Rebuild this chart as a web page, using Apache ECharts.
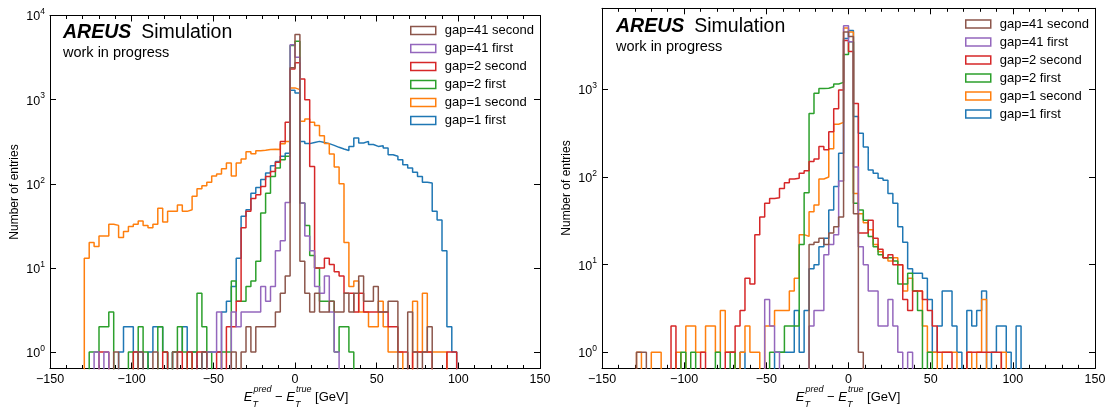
<!DOCTYPE html>
<html><head><meta charset="utf-8">
<script src="https://cdn.jsdelivr.net/npm/echarts@6/dist/echarts.min.js"></script>
<style>html,body{margin:0;padding:0;background:#fff}#c{width:1110px;height:410px}</style>
</head><body><div id="c"></div>
<script>
// ---- binning (3 GeV bins from -150 to 150) ----
const binStart = -150, binWidth = 3, nBins = 100;
const seriesNames = ['gap=41 second','gap=41 first','gap=2 second','gap=2 first','gap=1 second','gap=1 first'];
const seriesColors = ['#8c564b','#9467bd','#d62728','#2ca02c','#ff7f0e','#1f77b4'];

// ---- left panel counts (bin i covers [-150+3i, -147+3i]) ----
const L_brown = [
0,0,0,0,0,0,0,0,0,0, 0,0,0,1,0,0,0,0,1,0, 0,1,0,0,0,1,0,0,0,0, 0,1,0,0,0,0,0,1,0,1,
2,1,2,2,2,2,3,5,8,2400, 5940,12,5,3,5,3,3,4,3,3, 5,3,5,8,4,4,6,3,3,4, 4,0,0,3,1,0,1,2,0,0,
0,0,0,0,0,0,0,0,0,0, 0,0,0,0,0,0,0,0,0,0];
const L_purple = [
0,0,0,0,0,0,0,0,0,1, 0,1,0,0,0,0,0,0,0,0, 0,0,0,0,0,0,0,0,0,0, 0,0,1,1,3,0,0,3,2,3,
3,3,3,6,4,6,16,21,60,4500, 3200,59,24,16,6,5,8,3,1,0, 0,0,0,0,0,0,0,0,0,0, 0,0,0,0,0,0,0,0,0,0,
0,0,0,0,0,0,0,0,0,0, 0,0,0,0,0,0,0,0,0,0];
const L_red = [
0,0,0,0,0,0,0,0,0,0, 1,1,0,0,0,0,0,1,0,0, 0,0,0,1,0,0,1,0,1,0, 1,1,0,0,1,0,2,2,4,30,
47,67,74,93,122,140,180,319,537,2320, 2735,1760,1000,160,10,10,13,11,9,8, 5,5,3,5,3,3,3,3,3,2, 2,1,1,0,1,1,1,1,0,0,
0,1,1,0,0,0,0,0,0,0, 0,0,0,0,0,0,0,0,0,0];
const L_green = [
0,0,0,0,0,0,0,0,1,1, 2,2,3,0,0,0,1,0,2,1, 0,0,2,1,0,1,2,1,0,1, 5,2,1,0,0,1,1,7,4,4,
6,7,12,45,77,122,154,193,212,4400, 4940,59,32,14,10,4,4,4,1,2, 2,1,0,0,0,0,0,0,0,0, 0,0,0,0,0,0,0,0,0,0,
0,0,0,0,0,0,0,0,0,0, 0,0,0,0,0,0,0,0,0,0];
const L_orange = [
0,0,0,0,0,0,0,13,20,18, 24,24,33,32,23,27,31,33,36,32, 30,33,51,35,47,47,56,47,49,71, 87,95,104,124,131,151,176,124,176,197,
240,227,247,250,255,258,255,299,319,1378, 1315,552,590,537,494,373,300,226,158,100, 20,6,7,3,3,2,2,4,2,1, 1,1,0,0,4,1,5,1,1,1,
1,0,0,0,0,0,0,0,0,0, 0,0,0,0,0,0,0,0,0,0];
const L_blue = [
0,0,0,0,0,0,0,0,0,0, 0,0,0,0,1,2,2,1,1,0, 1,2,2,1,0,1,1,2,1,1, 0,1,1,1,1,3,4,6,13,41,
49,77,90,112,134,164,184,212,230,1290, 1200,319,300,310,319,310,300,286,271,259, 249,278,350,305,319,293,278,283,266,221, 212,193,168,154,137,122,104,102,47,37,
16,2,1,0,0,0,0,0,0,0, 0,0,0,0,0,0,0,0,0,0];

// ---- right panel counts ----
const R_brown = [
0,0,0,0,0,0,0,1,1,0, 0,0,0,0,0,0,0,0,0,0, 0,0,0,0,0,0,0,0,0,0, 0,0,0,0,0,0,0,0,0,0,
0,0,17,18,20,17,23,27,35,4500, 4000,38,1,0,0,0,0,0,0,0, 0,0,0,0,0,0,0,0,0,0, 0,0,0,0,0,0,0,0,0,0,
0,0,0,0,0,0,0,0,0,0, 0,0,0,0,0,0,0,0,0,0];
const R_purple = [
0,0,0,0,0,0,0,0,0,0, 0,0,0,0,0,0,0,0,0,0, 0,0,0,0,0,0,0,0,0,0, 0,0,0,4,2,1,0,0,0,0,
0,0,2,3,3,13,17,22,90,5300, 3500,130,16,10,5,5,2,2,4,2, 1,0,1,0,0,0,0,0,0,0, 0,0,0,0,0,0,0,0,0,0,
0,0,0,0,0,0,0,0,0,0, 0,0,0,0,0,0,0,0,0,0];
const R_red = [
0,0,0,0,0,0,0,0,0,0, 0,0,0,0,2,0,0,0,0,0, 1,0,0,0,0,1,1,2,3,7, 6,22,35,50,57,58,74,86,95,97,
110,118,150,160,222,204,329,600,980,3600, 2700,690,23,23,32,20,15,12,13,10, 10,4,3,5,5,4,3,2,1,1, 1,0,0,0,1,1,1,1,1,1,
1,0,0,0,0,0,0,0,0,0, 0,0,0,0,0,0,0,0,0,0];
const R_green = [
0,0,0,0,0,0,0,0,0,0, 0,0,0,0,0,0,1,0,1,0, 0,0,0,1,0,0,1,0,0,0, 0,0,0,0,1,1,1,2,2,2,
17,66,530,900,1020,1030,1070,1150,1200,2500, 3500,50,42,32,21,16,13,12,12,11, 6,6,8,5,3,0,1,0,0,0, 0,0,0,0,0,0,0,0,0,0,
0,0,0,0,0,0,0,0,0,0, 0,0,0,0,0,0,0,0,0,0];
const R_orange = [
0,0,0,0,0,0,0,1,0,0, 1,1,0,0,0,1,0,2,2,1, 1,2,2,1,3,1,1,0,1,2, 1,1,0,2,2,3,3,3,5,7,
22,21,40,48,95,100,210,400,420,5000, 4500,65,38,30,25,17,14,12,11,12, 10,5,7,5,5,2,1,1,0,1, 1,1,0,0,1,0,1,4,0,0,
0,1,0,0,0,0,0,0,0,0, 0,0,0,0,0,0,0,0,0,0];
const R_blue = [
0,0,0,0,0,0,0,0,0,0, 0,0,0,0,0,0,0,0,0,0, 0,0,0,0,0,0,0,0,1,0, 0,0,0,0,0,1,1,1,1,3,
1,3,9,10,16,20,42,78,186,3800, 4680,490,315,220,120,110,97,92,65,50, 27,18,9,8,8,7,4,1,2,5, 5,2,1,0,3,2,3,5,0,1,
2,2,1,0,2,0,0,0,0,0, 0,0,0,0,0,0,0,0,0,0];

const leftCounts  = [L_brown, L_purple, L_red, L_green, L_orange, L_blue];
const rightCounts = [R_brown, R_purple, R_red, R_green, R_orange, R_blue];

// ---- building ----
const FONT = "'Liberation Sans', Arial, sans-serif";
const EMPTY = 1e-3; // empty bins fall below the axis and are clipped
function stepData(counts){
  const pts = [];
  for (let i = 0; i < nBins; i++) pts.push([binStart + i*binWidth, counts[i] > 0 ? counts[i] : EMPTY]);
  pts.push([binStart + nBins*binWidth, EMPTY]);
  return pts;
}
const grids = [
  {left: 50, top: 15.5, width: 490, height: 353},
  {left: 602, top: 8.3, width: 493, height: 360}
];
const yRanges = [[0.637, 10000], [0.657, 8400]];
const minus = v => v < 0 ? '\u2212' + (-v) : String(v);

const xAxes = [], yAxes = [], series = [];
grids.forEach((g, gi) => {
  const common = {gridIndex: gi, type: 'value', min: -150, max: 150, interval: 50,
    splitLine: {show: false},
    axisLine: {show: true, onZero: false, lineStyle: {color: '#000', width: 1}},
    axisTick: {show: true, inside: true, length: 6, lineStyle: {color: '#000', width: 1}},
    minorTick: {show: true, splitNumber: 5, length: 3.5, lineStyle: {color: '#000', width: 1}}};
  xAxes.push(Object.assign({}, common, {position: 'bottom',
    axisLabel: {color: '#000', fontSize: 12.5, fontFamily: FONT, margin: 5, formatter: minus}}));
  xAxes.push(Object.assign({}, common, {position: 'top', axisLabel: {show: false}}));
  const ycommon = {gridIndex: gi, type: 'log', logBase: 10, min: yRanges[gi][0], max: yRanges[gi][1],
    splitLine: {show: false}, minorTick: {show: false},
    axisLine: {show: true, onZero: false, lineStyle: {color: '#000', width: 1}},
    axisTick: {show: true, inside: true, length: 6, lineStyle: {color: '#000', width: 1}}};
  yAxes.push(Object.assign({}, ycommon, {position: 'left',
    axisLabel: {color: '#000', fontFamily: FONT, margin: 5, showMinLabel: false, showMaxLabel: gi === 0,
      formatter: v => { const e = Math.log10(v); if (Math.abs(e - Math.round(e)) > 1e-6) return ''; return '{b|10}{s|' + Math.round(e) + '}'; },
      rich: {b: {fontSize: 12.5, fontFamily: FONT, color: '#000', lineHeight: 16, verticalAlign: 'bottom'},
             s: {fontSize: 8.5, fontFamily: FONT, color: '#000', lineHeight: 16, verticalAlign: 'top', padding: [0,0,7,0]}}}}));
  yAxes.push(Object.assign({}, ycommon, {position: 'right', axisLabel: {show: false}}));
  const counts = gi === 0 ? leftCounts : rightCounts;
  // draw order: gap=1 first ... gap=41 second on top
  for (let k = 5; k >= 0; k--) {
    series.push({type: 'line', name: seriesNames[k], xAxisIndex: gi*2, yAxisIndex: gi*2,
      data: stepData(counts[k]), step: 'end', showSymbol: false, symbol: 'none', clip: true,
      lineStyle: {color: seriesColors[k], width: 1.5}, itemStyle: {color: seriesColors[k]},
      emphasis: {disabled: true}, silent: true});
  }
});

const legendData = seriesNames.map((n, k) => ({name: n, icon: 'rect',
  itemStyle: {color: 'rgba(0,0,0,0)', borderColor: seriesColors[k], borderWidth: 1.5}}));
const legendBase = {orient: 'vertical', padding: 0, itemWidth: 25, itemHeight: 8, itemGap: 0, selectedMode: false,
  textStyle: {fontSize: 13, fontFamily: FONT, color: '#000', lineHeight: 18, padding: [0,0,0,4]}, data: legendData};
const legends = [Object.assign({}, legendBase, {left: 410, top: 21.5}), Object.assign({}, legendBase, {left: 965, top: 15})];

// text helpers
const ctx = document.createElement('canvas').getContext('2d');
function tw(text, font){ ctx.font = font; return ctx.measureText(text).width; }
function xTitle(cx, y){
  const big = 13, small = 9;
  const fBig = 'italic ' + big + 'px ' + FONT, fSmall = 'italic ' + small + 'px ' + FONT, fNorm = big + 'px ' + FONT;
  const parts = [
    {kind: 'E', sup: 'pred', sub: 'T'},
    {kind: 't', t: ' \u2212 '},
    {kind: 'E', sup: 'true', sub: 'T'},
    {kind: 't', t: ' [GeV]'}];
  let total = 0;
  parts.forEach(p => { p.w = p.kind === 'E' ? tw('E', fBig) + 1 + Math.max(tw(p.sup, fSmall), tw(p.sub, fSmall)) : tw(p.t, fNorm); total += p.w; });
  let x = cx - total/2; const els = [];
  parts.forEach(p => {
    if (p.kind === 'E') {
      const ew = tw('E', fBig);
      els.push({type: 'text', left: x, top: y - 8, style: {text: 'E', font: fBig, fill: '#000'}});
      els.push({type: 'text', left: x + ew + 1, top: y - 14, style: {text: p.sup, font: fSmall, fill: '#000'}});
      els.push({type: 'text', left: x + ew, top: y + 1, style: {text: p.sub, font: fSmall, fill: '#000'}});
    } else {
      els.push({type: 'text', left: x, top: y - 8, style: {text: p.t, font: fNorm, fill: '#000'}});
    }
    x += p.w;
  });
  return els;
}
function header(x, y1, y2){
  const fA = 'italic bold 19.5px ' + FONT, fS = '19.5px ' + FONT;
  const aw = tw('AREUS', fA);
  return [
    {type: 'text', left: x, top: y1 - 11, style: {text: 'AREUS', font: fA, fill: '#000'}},
    {type: 'text', left: x + aw + 10, top: y1 - 11, style: {text: 'Simulation', font: fS, fill: '#000'}},
    {type: 'text', left: x, top: y2 - 8, style: {text: 'work in progress', font: '14.5px ' + FONT, fill: '#000'}}
  ];
}
function yTitle(cx, cy){
  return {type: 'text', x: cx, y: cy, rotation: Math.PI/2,
    style: {text: 'Number of entries', font: '12px ' + FONT, fill: '#000', textAlign: 'center', textVerticalAlign: 'middle'}};
}
const graphics = [].concat(
  header(63, 34, 53), header(616, 28, 47.5),
  xTitle(296, 399), xTitle(848, 399),
  [yTitle(14.5, 192), yTitle(566.5, 188)]
);

const chart = echarts.init(document.getElementById('c'), null, {renderer: 'canvas'});
chart.setOption({
  animation: false,
  backgroundColor: '#fff',
  grid: grids,
  xAxis: xAxes,
  yAxis: yAxes,
  legend: legends,
  series: series,
  graphic: graphics
});
</script>
</body></html>
